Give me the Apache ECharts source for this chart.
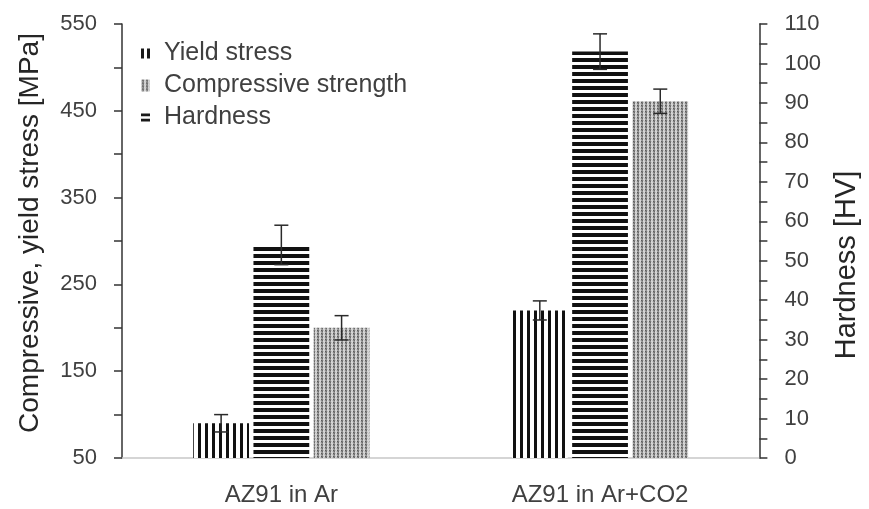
<!DOCTYPE html>
<html><head><meta charset="utf-8">
<script src="https://cdn.jsdelivr.net/npm/echarts@6/dist/echarts.min.js"></script>
<style>html,body{margin:0;padding:0;background:#fff}#c{width:869px;height:509px}</style>
</head><body><div id="c"></div>
<script>
const categories = ['AZ91 in Ar', 'AZ91 in Ar+CO2'];
const yieldStress = [90, 220];
const yieldErr = [10, 11];
const hardness = [54, 103];
const hardnessErr = [5, 4.5];
const compressive = [200, 461];
const compressiveErr = [14, 14];

function mkPattern(kind) {
  const c = document.createElement('canvas');
  const ctx = c.getContext('2d');
  if (kind === 'v') {
    c.width = 7; c.height = 4;
    ctx.fillStyle = '#fff'; ctx.fillRect(0, 0, 7, 4);
    ctx.fillStyle = '#111'; ctx.fillRect(2, 0, 3, 4);
  } else if (kind === 'h') {
    c.width = 4; c.height = 7;
    ctx.fillStyle = '#fff'; ctx.fillRect(0, 0, 4, 7);
    ctx.fillStyle = '#111'; ctx.fillRect(0, 2, 4, 4);
  } else {
    c.width = 4; c.height = 3;
    ctx.fillStyle = '#d6d6d6'; ctx.fillRect(0, 0, 4, 3);
    const px = [[1,0,'#5a5a5a'],[2,0,'#7a7a7a'],[1,1,'#8c8c8c'],[2,1,'#6a6a6a'],[1,2,'#a5a5a5'],[2,2,'#959595'],[0,1,'#c2c2c2'],[3,0,'#bcbcbc']];
    px.forEach(p => { ctx.fillStyle = p[2]; ctx.fillRect(p[0], p[1], 1, 1); });
  }
  return { image: c, repeat: 'repeat' };
}

const FONT = 'Liberation Sans';
const BARW = 0.175, GAP = 0.08;

function errSeries(name, vals, errs, axisIdx, pos) {
  return {
    type: 'custom', name: name + ' err', yAxisIndex: axisIdx, z: 10,
    data: vals.map((v, i) => [i, v, errs[i]]),
    renderItem: function (params, api) {
      const band = api.size([1, 0])[0];
      const bw = band * BARW;
      const off = (pos - 1) * bw * (1 + GAP);
      const top = api.coord([api.value(0), api.value(1) + api.value(2)]);
      const bot = api.coord([api.value(0), api.value(1) - api.value(2)]);
      const x = top[0] + off;
      const cap = 7;
      const st = { stroke: '#2a2a2a', lineWidth: 1.5 };
      return { type: 'group', children: [
        { type: 'line', shape: { x1: x, y1: top[1], x2: x, y2: bot[1] }, style: st },
        { type: 'line', shape: { x1: x - cap, y1: top[1], x2: x + cap, y2: top[1] }, style: st },
        { type: 'line', shape: { x1: x - cap, y1: bot[1], x2: x + cap, y2: bot[1] }, style: st }
      ]};
    }
  };
}

const chart = echarts.init(document.getElementById('c'), null, { renderer: 'canvas' });
chart.setOption({
  animation: false,
  backgroundColor: '#fff',
  textStyle: { fontFamily: FONT },
  grid: { left: 122, right: 101, top: 24, bottom: 51 },
  legend: {
    left: 136, top: 36, orient: 'vertical', itemWidth: 9, itemHeight: 12, itemGap: 7,
    data: [
      { name: 'Yield stress', icon: 'path://M0,0h3v10h-3z M6,0h3v10h-3z', itemStyle: { color: '#1a1a1a' } },
      { name: 'Compressive strength', icon: 'rect' },
      { name: 'Hardness', icon: 'path://M0,0h10v3h-10z M0,6h10v3h-10z', itemStyle: { color: '#1a1a1a' } }
    ],
    textStyle: { fontFamily: FONT, fontSize: 25, color: '#404040', padding: [0, 0, 0, 9] }
  },
  xAxis: {
    type: 'category', data: categories,
    axisLine: { lineStyle: { color: '#c8c8c8', width: 1.5 } },
    axisTick: { show: false },
    axisLabel: { fontFamily: FONT, fontSize: 24, color: '#404040', margin: 25 }
  },
  yAxis: [{
    type: 'value', min: 50, max: 550, interval: 100, position: 'left',
    name: 'Compressive, yield stress [MPa]', nameLocation: 'middle', nameGap: 78,
    nameTextStyle: { fontFamily: FONT, fontSize: 28, color: '#262626', padding: [0, 0, 0, 16] },
    axisLine: { show: true, lineStyle: { color: '#333', width: 1.5 } },
    axisTick: { show: true, length: 8, lineStyle: { color: '#333', width: 1.5 } },
    minorTick: { show: true, splitNumber: 2, length: 8, lineStyle: { color: '#333', width: 1.5 } },
    splitLine: { show: false },
    axisLabel: { fontFamily: FONT, fontSize: 22, color: '#404040', margin: 25 }
  }, {
    type: 'value', min: 0, max: 110, interval: 10, position: 'right',
    name: 'Hardness [HV]', nameLocation: 'middle', nameGap: 72,
    nameTextStyle: { fontFamily: FONT, fontSize: 29, color: '#262626', padding: [0, 48, 0, 0] },
    axisLine: { show: true, lineStyle: { color: '#333', width: 1.5 } },
    axisTick: { show: true, length: 8, lineStyle: { color: '#333', width: 1.5 } },
    minorTick: { show: true, splitNumber: 2, length: 8, lineStyle: { color: '#333', width: 1.5 } },
    splitLine: { show: false },
    axisLabel: { fontFamily: FONT, fontSize: 22, color: '#404040', margin: 25 }
  }],
  series: [
    { type: 'bar', name: 'Yield stress', yAxisIndex: 0, data: yieldStress,
      barWidth: (BARW * 100) + '%', barGap: (GAP * 100) + '%',
      itemStyle: { color: mkPattern('v') } },
    { type: 'bar', name: 'Hardness', yAxisIndex: 1, data: hardness,
      barWidth: (BARW * 100) + '%', barGap: (GAP * 100) + '%',
      itemStyle: { color: mkPattern('h') } },
    { type: 'bar', name: 'Compressive strength', yAxisIndex: 0, data: compressive,
      barWidth: (BARW * 100) + '%', barGap: (GAP * 100) + '%',
      itemStyle: { color: mkPattern('d') } },
    errSeries('Yield stress', yieldStress, yieldErr, 0, 0),
    errSeries('Hardness', hardness, hardnessErr, 1, 1),
    errSeries('Compressive strength', compressive, compressiveErr, 0, 2)
  ]
});
</script></body></html>
